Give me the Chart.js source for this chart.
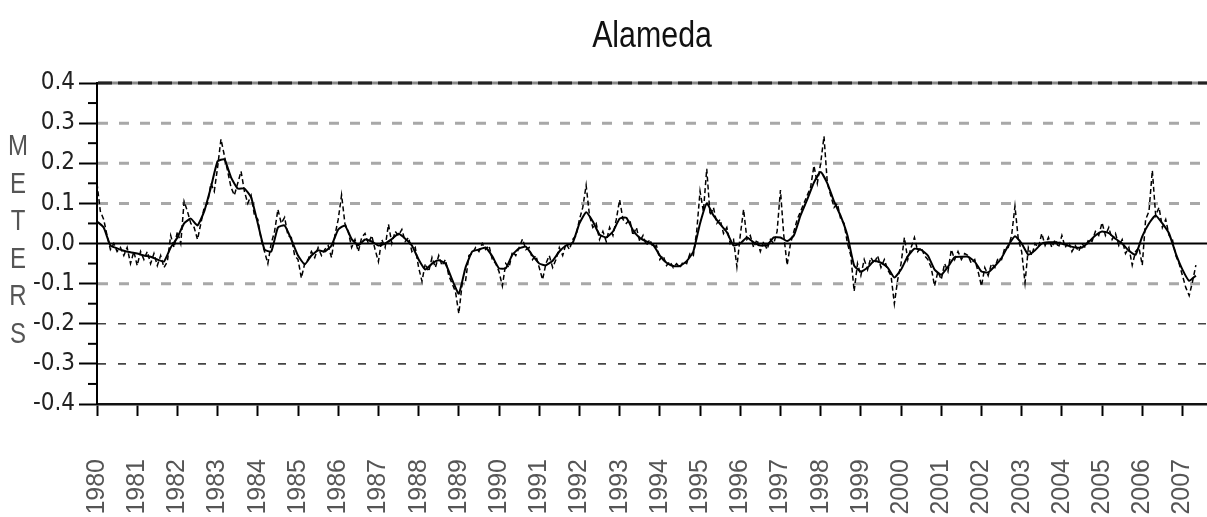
<!DOCTYPE html>
<html>
<head>
<meta charset="utf-8">
<script src="https://cdn.jsdelivr.net/npm/chart.js@4.4.1/dist/chart.umd.min.js"></script>
<style>
  html, body { margin: 0; padding: 0; background: #fff; }
  canvas { display: block; }
</style>
</head>
<body>
<canvas id="tideChart" width="1207" height="517"></canvas>
<script>
const chartTitle = 'Alameda';
const axisLetters = ['M', 'E', 'T', 'E', 'R', 'S'];
const firstYear = 1980;
const yTickValues = [-0.4, -0.3, -0.2, -0.1, 0, 0.1, 0.2, 0.3, 0.4];
const yMinorValues = [-0.35, -0.25, -0.15, -0.05, 0.05, 0.15, 0.25, 0.35];

// smoothed sea level (m), every 2 months from Jan 1980
const smoothedValues = [
  0.055, 0.04, -0.005, -0.012, -0.018, -0.022,
  -0.025, -0.03, -0.033, -0.04, -0.045, -0.01,
  0.015, 0.05, 0.062, 0.045, 0.08, 0.14,
  0.205, 0.21, 0.165, 0.137, 0.137, 0.115,
  0.05, -0.015, -0.02, 0.04, 0.045, 0.01,
  -0.03, -0.052, -0.03, -0.017, -0.02, -0.005,
  0.035, 0.045, 0.011, -0.004, 0.01, 0.005,
  -0.005, 0.0, 0.011, 0.024, 0.012, -0.005,
  -0.04, -0.065, -0.05, -0.042, -0.05, -0.09,
  -0.125, -0.06, -0.02, -0.015, -0.01, -0.032,
  -0.062, -0.062, -0.028, -0.012, -0.008, -0.03,
  -0.05, -0.054, -0.043, -0.02, -0.005, 0.002,
  0.05, 0.078, 0.055, 0.022, 0.015, 0.03,
  0.062, 0.064, 0.033, 0.014, 0.005, -0.003,
  -0.03, -0.048, -0.056, -0.056, -0.044, -0.02,
  0.05, 0.1, 0.07, 0.048, 0.028, -0.005,
  0.0, 0.015, 0.003, -0.005, -0.004, 0.015,
  0.015, 0.006, 0.02, 0.07, 0.11, 0.152,
  0.178, 0.15, 0.105, 0.068, 0.02, -0.055,
  -0.07, -0.06, -0.043, -0.048, -0.06, -0.085,
  -0.065, -0.032, -0.013, -0.016, -0.03, -0.065,
  -0.078, -0.058, -0.034, -0.033, -0.033, -0.045,
  -0.07, -0.072, -0.056, -0.036, -0.005, 0.018,
  0.0, -0.028, -0.017, 0.0, 0.003, 0.003,
  0.0, -0.006, -0.01, -0.01, 0.004, 0.02,
  0.03, 0.026, 0.012, 0.0, -0.018, -0.028,
  0.018, 0.05, 0.07, 0.05, 0.025, -0.025,
  -0.065, -0.093, -0.08
];

// monthly sea level (m), from Jan 1980
const monthlyValues = [
  0.15, 0.08, 0.06, 0.02, -0.015, 0.0, -0.02, -0.01, -0.03, -0.01, -0.05, -0.02,
  -0.055, -0.02, -0.04, -0.02, -0.05, -0.025, -0.055, -0.03, -0.06, -0.045, 0.02, -0.01,
  0.03, 0.0, 0.105, 0.08, 0.05, 0.04, 0.01, 0.05, 0.09, 0.1, 0.15, 0.13,
  0.19, 0.26, 0.22, 0.18, 0.14, 0.12, 0.15, 0.18, 0.13, 0.1, 0.12, 0.07,
  0.06, 0.01, -0.02, -0.05, 0.0, 0.03, 0.085, 0.05, 0.065, 0.02, 0.015, -0.03,
  -0.04, -0.086, -0.05, -0.04, -0.02, -0.035, -0.01, -0.03, -0.015, -0.005, -0.035, 0.02,
  0.06, 0.121, 0.05, 0.03, -0.01, 0.01, -0.02, 0.015, 0.025, 0.0, 0.02, -0.015,
  -0.045, 0.01, -0.01, 0.048, 0.0, 0.03, 0.02, 0.035, 0.005, 0.015, -0.02, -0.01,
  -0.06, -0.094, -0.05, -0.07, -0.035, -0.06, -0.03, -0.055, -0.04, -0.08, -0.1, -0.12,
  -0.175, -0.1, -0.094, -0.03, -0.025, -0.01, -0.02, 0.0, -0.015, -0.005, -0.04, -0.05,
  -0.07, -0.106, -0.05, -0.06, -0.02, -0.03, -0.01, 0.011, -0.015, -0.01, -0.04, -0.03,
  -0.06, -0.09, -0.05, -0.03, -0.06, -0.04, -0.01, -0.03, 0.0, -0.015, 0.01, 0.02,
  0.06, 0.09, 0.145, 0.07, 0.04, 0.05, 0.01, 0.03, 0.005, 0.04, 0.02, 0.06,
  0.109, 0.06, 0.05, 0.06, 0.02, 0.04, 0.005, 0.02, -0.005, 0.01, -0.01, -0.005,
  -0.04, -0.03, -0.055, -0.045, -0.06, -0.05, -0.06, -0.045, -0.05, -0.025, -0.03, 0.03,
  0.13, 0.08, 0.186, 0.07, 0.09, 0.05, 0.06, 0.025, 0.04, 0.0, 0.01, -0.058,
  0.02, 0.085, 0.01, 0.02, -0.01, 0.01, -0.02, 0.005, -0.015, 0.01, 0.0, 0.03,
  0.133, 0.02, -0.054, 0.0, 0.03, 0.06, 0.08, 0.1, 0.12, 0.14, 0.194, 0.15,
  0.2, 0.267, 0.15, 0.12, 0.09, 0.1, 0.06, 0.05, 0.0, -0.03, -0.119, -0.05,
  -0.08, -0.04, -0.065, -0.035, -0.05, -0.03, -0.06, -0.04, -0.065, -0.08, -0.15, -0.09,
  -0.05, 0.015, -0.04, -0.01, 0.015, -0.02, -0.01, -0.03, -0.04, -0.06, -0.106, -0.07,
  -0.09, -0.05, -0.07, -0.015, -0.04, -0.02, -0.04, -0.025, -0.03, -0.05, -0.04, -0.07,
  -0.106, -0.06, -0.08, -0.05, -0.06, -0.035, -0.04, -0.01, -0.01, 0.02, 0.093, 0.01,
  -0.02, -0.098, -0.01, -0.03, 0.0, -0.01, 0.025, -0.005, 0.015, -0.01, 0.01, -0.01,
  0.02, -0.01, 0.005, -0.02, -0.005, -0.02, 0.0, -0.01, 0.01, 0.005, 0.03, 0.02,
  0.052, 0.02, 0.04, 0.01, 0.025, -0.005, 0.01, -0.025, -0.01, -0.054, -0.02, -0.01,
  -0.054, 0.06, 0.08, 0.182, 0.07, 0.09, 0.04, 0.06, 0.02, 0.01, -0.03, -0.05,
  -0.08, -0.11, -0.13, -0.095, -0.054
];

const narrowFont = '"Liberation Sans Narrow", "DejaVu Sans Condensed", "Arial Narrow", sans-serif';
const plainFont = '"Liberation Sans", Arial, sans-serif';

const toPoints = (values, perYear) => values.map((v, i) => ({ x: firstYear + i / perYear, y: v }));

// gridlines, minor ticks, title and the stacked axis label
const decorPlugin = {
  id: 'decor',
  beforeDatasetsDraw(chart) {
    const { ctx, chartArea: a, scales: { y } } = chart;
    const hline = (v, color, width, dash) => {
      const py = y.getPixelForValue(v);
      ctx.beginPath();
      ctx.strokeStyle = color;
      ctx.lineWidth = width;
      ctx.setLineDash(dash);
      ctx.moveTo(a.left + 1, py);
      ctx.lineTo(a.right, py);
      ctx.stroke();
    };
    ctx.save();
    hline(0.4, '#8a8a8a', 3, []);
    hline(0.4, '#222', 3, [14, 6]);
    [0.3, 0.2, 0.1, -0.1].forEach(v => hline(v, '#a8a8a8', 3, [10, 11]));
    [-0.2, -0.3].forEach(v => hline(v, '#444', 1.6, [8, 12]));
    hline(0, '#000', 2, []);
    ctx.restore();
  },
  afterDraw(chart) {
    const { ctx, chartArea: a, scales: { y } } = chart;
    ctx.save();
    ctx.setLineDash([]);
    ctx.strokeStyle = '#000';
    ctx.lineWidth = 2;
    yMinorValues.forEach(v => {
      const py = y.getPixelForValue(v);
      ctx.beginPath();
      ctx.moveTo(a.left - 9, py);
      ctx.lineTo(a.left, py);
      ctx.stroke();
    });

    // narrow title: squeeze a regular face horizontally
    ctx.fillStyle = '#111';
    ctx.font = '37px ' + plainFont;
    ctx.textAlign = 'center';
    ctx.textBaseline = 'alphabetic';
    ctx.save();
    ctx.translate((a.left + a.right) / 2, 47);
    ctx.scale(0.82, 1);
    ctx.fillText(chartTitle, 0, 0);
    ctx.restore();

    ctx.fillStyle = '#555';
    ctx.font = '30px ' + plainFont;
    ctx.textBaseline = 'middle';
    axisLetters.forEach((ch, i) => {
      ctx.save();
      ctx.translate(18, 147 + i * 37.5);
      ctx.scale(0.8, 1);
      ctx.fillText(ch, 0, 0);
      ctx.restore();
    });
    ctx.restore();
  }
};

new Chart(document.getElementById('tideChart'), {
  type: 'line',
  data: {
    datasets: [
      {
        label: 'Smoothed',
        data: toPoints(smoothedValues, 6),
        borderColor: '#000',
        borderWidth: 2,
        pointRadius: 0,
        tension: 0.15
      },
      {
        label: 'Monthly',
        data: toPoints(monthlyValues, 12),
        borderColor: '#000',
        borderWidth: 1.5,
        borderDash: [5, 3],
        pointRadius: 0,
        tension: 0
      }
    ]
  },
  options: {
    responsive: false,
    animation: false,
    layout: { padding: { top: 83, right: 0, bottom: 0, left: 0 } },
    plugins: {
      legend: { display: false },
      tooltip: { enabled: false }
    },
    scales: {
      x: {
        type: 'linear',
        min: 1980,
        max: 2007.61,
        afterFit: s => { s.height = 113; s.paddingLeft = 0; s.paddingRight = 0; },
        grid: { drawOnChartArea: false, tickLength: 12, tickWidth: 2, tickColor: '#000' },
        border: { color: '#111', width: 2.5 },
        ticks: {
          stepSize: 1,
          includeBounds: false,
          autoSkip: false,
          minRotation: 90,
          maxRotation: 90,
          padding: 43,
          color: '#555',
          font: { family: plainFont, size: 25 },
          callback: v => String(Math.round(v))
        }
      },
      y: {
        min: -0.4,
        max: 0.4,
        afterFit: s => { s.width = 97; },
        afterBuildTicks: s => { s.ticks = yTickValues.map(v => ({ value: v })); },
        grid: { drawOnChartArea: false, tickLength: 18, tickWidth: 2, tickColor: '#000' },
        border: { color: '#000', width: 2 },
        ticks: {
          padding: 4,
          color: '#222',
          font: { family: narrowFont, size: 24 },
          callback: v => Math.abs(v) < 1e-9 ? '0.0' : v.toFixed(1)
        }
      }
    }
  },
  plugins: [decorPlugin]
});
</script>
</body>
</html>
